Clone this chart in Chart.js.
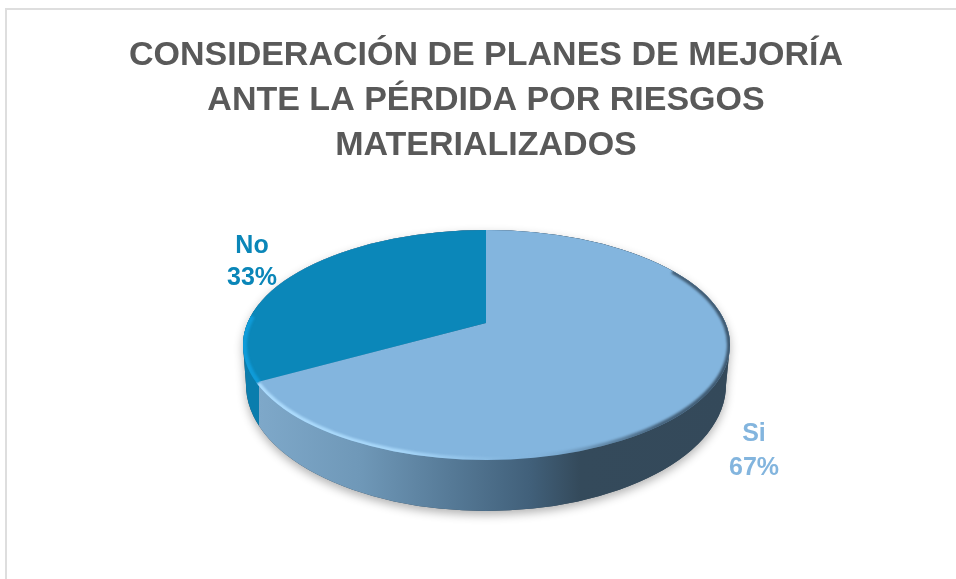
<!DOCTYPE html>
<html>
<head>
<meta charset="utf-8">
<script src="https://cdn.jsdelivr.net/npm/chart.js@4"></script>
<style>
html,body{margin:0;background:#fff;overflow:hidden}
#frame{position:absolute;left:5px;top:8px;right:0;bottom:0;border-left:2px solid #dedede;border-top:2px solid #dedede}
#chart{position:absolute;left:0;top:0;display:block}
</style>
</head>
<body>
<div id="frame"></div>
<canvas id="chart" width="956" height="579"></canvas>
<script>
const categories=["Si","No"];
const values=[67,33];
const titleLines=["CONSIDERACIÓN DE PLANES DE MEJORÍA","ANTE LA PÉRDIDA POR RIESGOS","MATERIALIZADOS"];
const sliceColors=["#83b5de","#0b87b9"];
const labelColors=["#83b5de","#0a86b8"];
const labelSpots=[[754,434,468],[252,246,278]];

// the reference is a tilted 3d pie: flatten the arcs and cut them to the top ellipse
const squash=0.47;
const top3d={x:486.5,y:345,rx:243.5,ry:115};
const bottom3d={x:486,y:385,rx:240,ry:126};
const sideSplit=259;

function wallPath(c){
c.beginPath();
c.moveTo(top3d.x-top3d.rx,top3d.y);
c.lineTo(bottom3d.x-bottom3d.rx,bottom3d.y);
c.ellipse(bottom3d.x,bottom3d.y,bottom3d.rx,bottom3d.ry,0,Math.PI,0,true);
c.lineTo(top3d.x+top3d.rx,top3d.y);
c.ellipse(top3d.x,top3d.y,top3d.rx,top3d.ry,0,0,Math.PI,true);
c.closePath();
}

function wallGradient(c){
let x0=top3d.x-top3d.rx,x1=top3d.x+top3d.rx;
let g=c.createLinearGradient(x0,0,x1,0);
let at=x=>(x-x0)/(x1-x0);
g.addColorStop(0,"#0a7dad");
g.addColorStop(at(sideSplit),"#0a7dad");
g.addColorStop(at(sideSplit+0.5),"#7ea8c9");
g.addColorStop(at(360),"#6f98b8");
g.addColorStop(at(450),"#567a97");
g.addColorStop(at(530),"#41607a");
g.addColorStop(at(580),"#344a5b");
g.addColorStop(1,"#34495a");
return g;
}

function rimGradient(c){
let x0=top3d.x-top3d.rx,x1=top3d.x+top3d.rx;
let g=c.createLinearGradient(x0,0,x1,0);
let at=x=>(x-x0)/(x1-x0);
g.addColorStop(at(262),"rgba(175,222,255,0.95)");
g.addColorStop(at(400),"rgba(175,222,255,0.8)");
g.addColorStop(at(510),"rgba(175,222,255,0)");
g.addColorStop(at(560),"rgba(50,72,92,0.1)");
g.addColorStop(at(660),"rgba(50,72,92,0.75)");
g.addColorStop(1,"rgba(50,72,92,0.85)");
return g;
}

const pie3d={
id:"pie3d",
beforeDatasetsDraw(chart){
let c=chart.ctx;
let arc=chart.getDatasetMeta(0).data[0];

c.save();
c.shadowColor="rgba(0,0,0,0.3)";
c.shadowBlur=10;
c.shadowOffsetY=4;
wallPath(c);
c.fillStyle="#34495a";
c.fill();
c.restore();

c.save();
wallPath(c);
c.fillStyle=wallGradient(c);
c.fill();
c.restore();

c.save();
c.beginPath();
c.ellipse(top3d.x,top3d.y,top3d.rx,top3d.ry,0,0,Math.PI*2);
c.clip();
c.translate(arc.x,arc.y);
c.scale(1,squash);
c.translate(-arc.x,-arc.y);
},
afterDatasetsDraw(chart){
let c=chart.ctx;
c.restore();

c.save();
c.beginPath();
c.ellipse(top3d.x,top3d.y,top3d.rx,top3d.ry,0,0,Math.PI*2);
c.clip();
c.filter="blur(1.2px)";
c.lineWidth=6;
c.strokeStyle=rimGradient(c);
c.beginPath();
c.ellipse(top3d.x,top3d.y,top3d.rx,top3d.ry,0,-0.7,2.8);
c.stroke();
c.strokeStyle="#0f9bd8";
c.lineWidth=8;
c.beginPath();
c.ellipse(top3d.x,top3d.y,top3d.rx,top3d.ry,0,2.8,3.4);
c.stroke();
c.restore();

// data labels, same two lines as the office chart
let total=values.reduce((a,b)=>a+b,0);
c.save();
c.font="bold 25px 'Liberation Sans'";
c.textAlign="center";
c.textBaseline="middle";
categories.forEach((name,i)=>{
c.fillStyle=labelColors[i];
c.fillText(name,labelSpots[i][0],labelSpots[i][1]);
c.fillText(Math.round(values[i]/total*100)+"%",labelSpots[i][0],labelSpots[i][2]);
});
c.restore();
}
};

new Chart(document.getElementById("chart"),{
type:"pie",
data:{
labels:categories,
datasets:[{
data:values,
backgroundColor:sliceColors,
borderWidth:0,
radius:340,
clip:false
}]
},
options:{
responsive:false,
animation:false,
layout:{padding:{left:16,bottom:103}},
plugins:{
legend:{display:false},
tooltip:{enabled:false},
title:{
display:true,
text:titleLines,
fullSize:false,
color:"#595959",
font:{family:"'Liberation Sans'",size:34,weight:"bold",lineHeight:1.324},
padding:{top:33,bottom:2}
}
}
},
plugins:[pie3d]
});
</script>
</body>
</html>
